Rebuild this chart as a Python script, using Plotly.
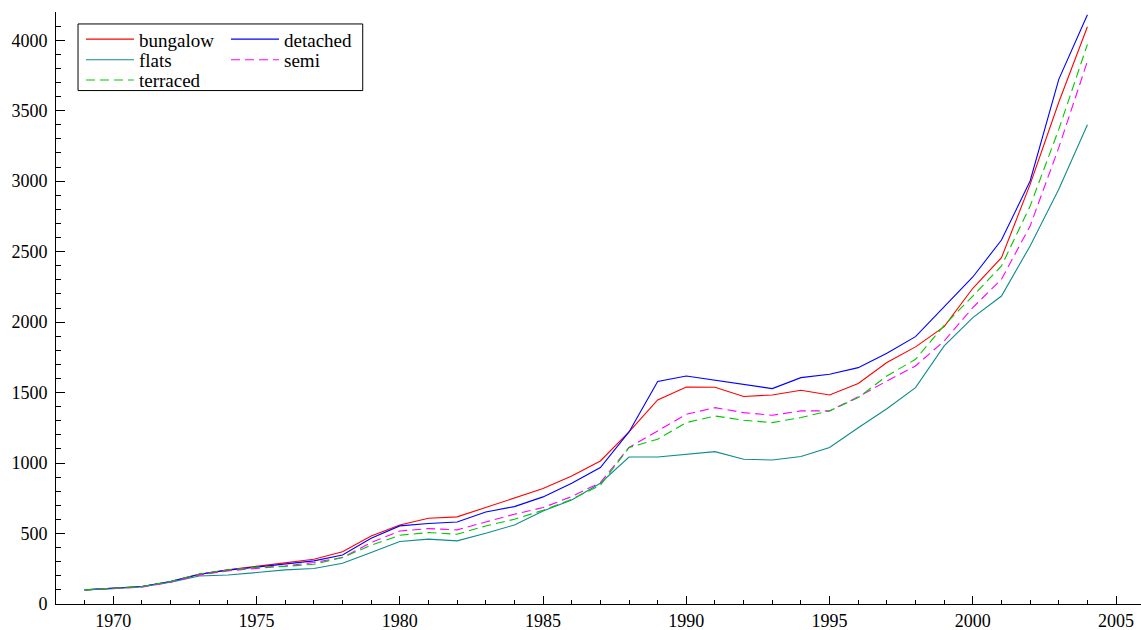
import plotly.graph_objects as go

years = list(range(1969, 2005))

bungalow = [100, 110, 124, 159, 211, 242, 266, 294, 318, 370, 483, 561, 608, 618, 684, 755,
            819, 908, 1015, 1221, 1448, 1540, 1538, 1472, 1483, 1516, 1483, 1564, 1713, 1824,
            1968, 2240, 2457, 2977, 3560, 4095]
detached = [100, 110, 124, 159, 211, 240, 262, 282, 306, 348, 467, 554, 571, 582, 653, 691,
            760, 857, 968, 1221, 1578, 1618, 1587, 1559, 1528, 1606, 1630, 1677, 1779, 1897,
            2110, 2320, 2582, 3001, 3722, 4180]
flats = [100, 108, 122, 155, 199, 206, 223, 242, 252, 289, 365, 443, 460, 448, 502, 561,
         660, 738, 857, 1043, 1043, 1062, 1081, 1027, 1022, 1046, 1110, 1250, 1385, 1535,
         1831, 2032, 2185, 2540, 2942, 3400]
semi = [100, 110, 120, 155, 205, 235, 252, 270, 294, 330, 436, 518, 535, 526, 582, 637,
        684, 762, 862, 1110, 1228, 1346, 1393, 1358, 1339, 1370, 1370, 1470, 1582, 1689,
        1866, 2103, 2304, 2682, 3238, 3850]
terraced = [100, 110, 124, 160, 213, 242, 262, 266, 282, 330, 417, 488, 507, 495, 554, 601,
            665, 743, 843, 1110, 1169, 1287, 1334, 1304, 1287, 1323, 1370, 1464, 1618, 1736,
            1977, 2185, 2398, 2823, 3367, 3970]

names = ["bungalow", "detached", "flats", "semi", "terraced"]
values = [bungalow, detached, flats, semi, terraced]
colors = ["#FF0000", "#0000FF", "#0E8C8C", "#FF00FF", "#00C800"]
dashes = ["solid", "solid", "solid", "9px,5px", "9px,5px"]

# legend layout: two columns (col, row) like the original
legend_cells = [(0, 0), (1, 0), (0, 1), (1, 1), (0, 2)]
col_x = [0.023, 0.1567]
row_y = [0.954, 0.919, 0.885]

FONT = "Liberation Serif"

fig = go.Figure()
layout_legends = {}
for i, (name, vals, color, dash) in enumerate(zip(names, values, colors, dashes)):
    key = "legend" if i == 0 else f"legend{i + 1}"
    fig.add_trace(go.Scatter(x=years, y=vals, mode="lines", name=name,
                             line=dict(color=color, width=1.1, dash=dash),
                             legend=key, showlegend=True))
    c, r = legend_cells[i]
    layout_legends[key] = dict(x=col_x[c], y=row_y[r], xanchor="left", yanchor="middle",
                               bgcolor="rgba(0,0,0,0)", borderwidth=0, itemwidth=48,
                               font=dict(family=FONT, size=19, color="black"))

fig.update_layout(
    width=1141, height=630,
    showlegend=True,
    margin=dict(l=56, r=0, t=12, b=26),
    paper_bgcolor="white", plot_bgcolor="white",
    font=dict(family=FONT, size=18, color="black"),
    xaxis=dict(range=[1968, 2005.87], showgrid=False, zeroline=False,
               showline=True, linecolor="black", linewidth=1,
               ticks="inside", ticklen=8, tickcolor="black", tickwidth=1,
               tick0=1970, dtick=5,
               minor=dict(ticks="inside", ticklen=4, dtick=1, tick0=1970,
                          tickcolor="black", showgrid=False),
               tickfont=dict(family=FONT, size=18, color="black")),
    yaxis=dict(range=[0, 4200], showgrid=False, zeroline=False,
               showline=True, linecolor="black", linewidth=1,
               ticks="inside", ticklen=9, tickcolor="black", tickwidth=1,
               tick0=0, dtick=500, ticklabelstandoff=4,
               minor=dict(ticks="inside", ticklen=5, dtick=100, tick0=0,
                          tickcolor="black", showgrid=False),
               tickfont=dict(family=FONT, size=18, color="black")),
    shapes=[dict(type="rect", xref="paper", yref="paper",
                 x0=0.0203, x1=0.2827, y0=0.8673, y1=0.9798,
                 line=dict(color="black", width=1), fillcolor="rgba(0,0,0,0)")],
    **layout_legends,
)

fig.write_html("out.html")
